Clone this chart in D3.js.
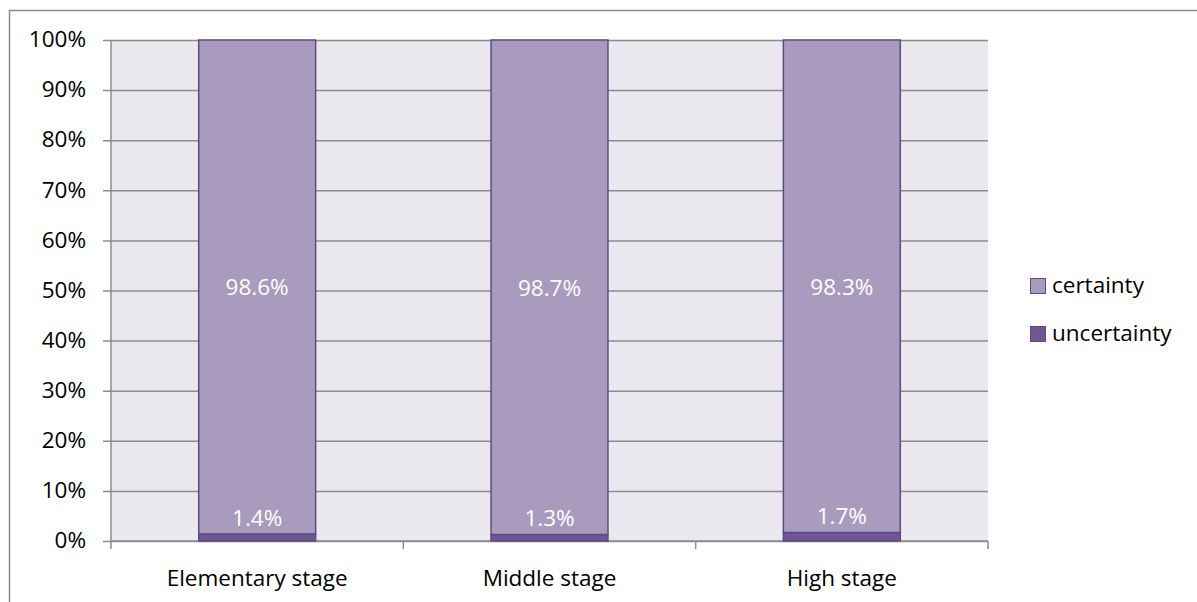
<!DOCTYPE html>
<html>
<head>
<meta charset="utf-8">
<script src="https://cdn.jsdelivr.net/npm/d3@7"></script>
<style>
  html, body { margin: 0; padding: 0; background: #fff; }
  svg { display: block; font-family: "Open Sans", "Liberation Sans", sans-serif; }
</style>
</head>
<body>
<svg id="chart" width="1197" height="602"></svg>
<script>
// Share of certainty / uncertainty responses by school stage
const categories = ["Elementary stage", "Middle stage", "High stage"];
const uncertainty = [1.4, 1.3, 1.7];
const certainty = [98.6, 98.7, 98.3];
const yTicks = [0, 10, 20, 30, 40, 50, 60, 70, 80, 90, 100];
const seriesNames = ["certainty", "uncertainty"];

const colors = {
  certainty: "#A99BBD",
  uncertainty: "#6E5792",
  stroke: "#5E4A87",
  plotBg: "#EBE9EF",
  grid: "#8C8C8C",
  text: "#000"
};
const fontSize = 22.5;

const svg = d3.select("#chart");
const m = { left: 111, right: 988, top: 40, bottom: 541 };

// outer chart border
svg.append("rect")
  .attr("x", 9.5).attr("y", 10.5)
  .attr("width", 1300).attr("height", 700)
  .attr("fill", "none").attr("stroke", "#8C8C8C").attr("stroke-width", 1.5);

const x = d3.scaleBand().domain(categories).range([m.left, m.right]).paddingInner(0.6).paddingOuter(0.3);
const xOuter = d3.scaleBand().domain(categories).range([m.left, m.right]);
const y = d3.scaleLinear().domain([0, 100]).range([m.bottom, m.top]);

// plot area background
svg.append("rect")
  .attr("x", m.left).attr("y", m.top)
  .attr("width", m.right - m.left).attr("height", m.bottom - m.top)
  .attr("fill", colors.plotBg);

// horizontal gridlines with outward tick marks
const yAxis = d3.axisLeft(y).tickValues(yTicks).tickSize(-(m.right - m.left)).tickFormat(d => d + "%");
const gy = svg.append("g").attr("transform", `translate(${m.left},0)`).call(yAxis);
gy.select(".domain").remove();
gy.selectAll(".tick line").attr("stroke", colors.grid).attr("stroke-width", 1.5).attr("x1", -8);
gy.selectAll(".tick text").attr("x", -25).attr("dy", "0.3em").attr("font-size", fontSize).attr("fill", colors.text)
  .attr("font-family", "'Open Sans', sans-serif");

// left axis line
svg.append("line").attr("x1", m.left).attr("x2", m.left).attr("y1", m.top).attr("y2", m.bottom)
  .attr("stroke", colors.grid).attr("stroke-width", 1.5);

// bottom axis with category boundary ticks
const bounds = categories.map(c => xOuter(c)).concat([m.right]);
svg.append("line").attr("x1", m.left).attr("x2", m.right).attr("y1", m.bottom).attr("y2", m.bottom)
  .attr("stroke", colors.grid).attr("stroke-width", 1.5);
svg.selectAll(".xtick").data(bounds).enter().append("line")
  .attr("x1", d => d).attr("x2", d => d).attr("y1", m.bottom).attr("y2", m.bottom + 8)
  .attr("stroke", colors.grid).attr("stroke-width", 1.5);

svg.selectAll(".xlabel").data(categories).enter().append("text")
  .attr("x", d => xOuter(d) + xOuter.bandwidth() / 2)
  .attr("y", 586)
  .attr("text-anchor", "middle").attr("font-size", fontSize).attr("fill", colors.text)
  .text(d => d);

// stacked bars
const rows = categories.map((c, i) => ({ cat: c, uncertainty: uncertainty[i], certainty: certainty[i] }));
const stack = d3.stack().keys(["uncertainty", "certainty"])(rows);

stack.forEach(layer => {
  svg.append("g").selectAll("rect").data(layer).enter().append("rect")
    .attr("x", d => x(d.data.cat))
    .attr("width", x.bandwidth())
    .attr("y", d => y(d[1]))
    .attr("height", d => y(d[0]) - y(d[1]))
    .attr("fill", colors[layer.key])
    .attr("stroke", colors.stroke).attr("stroke-width", 1.5);
});

// value labels
svg.selectAll(".lblC").data(rows).enter().append("text")
  .attr("x", d => x(d.cat) + x.bandwidth() / 2)
  .attr("y", d => y(d.uncertainty + d.certainty / 2) + 8.5)
  .attr("text-anchor", "middle").attr("font-size", fontSize).attr("fill", "#fff")
  .text(d => d.certainty.toFixed(1) + "%");
svg.selectAll(".lblU").data(rows).enter().append("text")
  .attr("x", d => x(d.cat) + x.bandwidth() / 2)
  .attr("y", d => y(d.uncertainty) - 8)
  .attr("text-anchor", "middle").attr("font-size", fontSize).attr("fill", "#fff")
  .text(d => d.uncertainty.toFixed(1) + "%");

// legend
const legend = svg.append("g").attr("transform", "translate(1030,278)");
seriesNames.forEach((name, i) => {
  const g = legend.append("g").attr("transform", `translate(0,${i * 48})`);
  g.append("rect").attr("x", 0.5).attr("y", 0.5).attr("width", 15).attr("height", 15)
    .attr("fill", colors[name]).attr("stroke", colors.stroke).attr("stroke-width", 1);
  g.append("text").attr("x", 22).attr("y", 14.5).attr("font-size", fontSize).attr("fill", colors.text).text(name);
});
</script>
</body>
</html>
